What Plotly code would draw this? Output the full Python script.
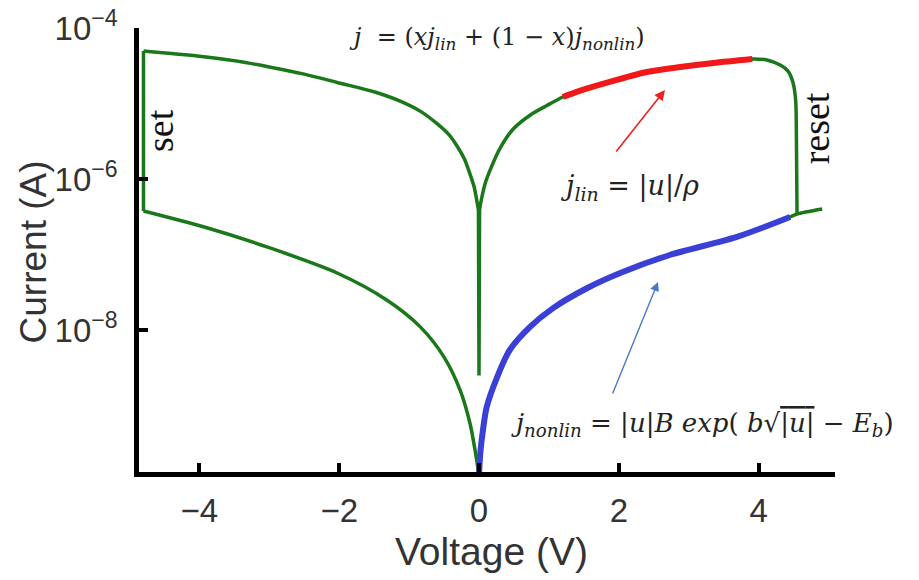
import plotly.graph_objects as go

# ---- measured I-V loop (voltage in V, current in A) ----
# low-resistance branch, negative side: from the set point back to 0 V
v_lrs_neg = [-4.80, -4.00, -3.46, -3.00, -2.50, -2.03, -1.49, -1.07, -0.83, -0.60, -0.44,
             -0.31, -0.21, -0.13, -0.07, -0.036, -0.008, 0.0]
i_lrs_neg = [4.95e-5, 4.22e-5, 3.64e-5, 3.05e-5, 2.45e-5, 1.9e-5, 1.42e-5, 1.02e-5, 7.8e-6,
             5.4e-6, 3.95e-6, 2.7e-6, 1.85e-6, 1.17e-6, 7.9e-7, 5.45e-7, 3.9e-7, 2.5e-9]

# low-resistance branch, positive side: 0 V up to the reset
v_lrs_pos = [0.008, 0.036, 0.086, 0.157, 0.30, 0.49, 0.73, 0.97, 1.20, 1.44, 1.92, 2.40,
             2.88, 3.35, 3.91, 4.12, 4.31, 4.42, 4.49, 4.53, 4.54, 4.55]
i_lrs_pos = [3.9e-7, 5.45e-7, 8.6e-7, 1.3e-6, 2.55e-6, 4.6e-6, 7.0e-6, 9.4e-6,
             1.22e-5, 1.47e-5, 1.99e-5, 2.61e-5, 3.04e-5, 3.44e-5, 3.88e-5, 3.77e-5,
             3.23e-5, 2.69e-5, 1.93e-5, 1.11e-5, 4.46e-6, 3.44e-7]

# high-resistance branch, positive side: from the sweep maximum back to 0 V
v_hrs_pos = [4.91, 4.55, 4.45, 3.69, 2.73, 2.02, 1.55, 1.06, 0.73, 0.44, 0.26, 0.11,
             0.057, 0.02, 0.0]
i_hrs_pos = [4.01e-7, 3.44e-7, 3.14e-7, 1.71e-7, 9.85e-8, 5.69e-8, 3.6e-8, 1.95e-8,
             1.1e-8, 5.43e-9, 2.38e-9, 9.55e-10, 4.73e-10, 2.42e-10, 1.2e-10]

# high-resistance branch, negative side: 0 V out to the set point
v_hrs_neg = [0.0, -0.057, -0.13, -0.27, -0.50, -0.84, -1.32, -2.03, -2.99, -3.93, -4.80]
i_hrs_neg = [1.2e-10, 2.58e-10, 5.86e-10, 1.6e-9, 4.38e-9, 1.1e-8, 2.5e-8, 5.69e-8,
             1.22e-7, 2.31e-7, 3.77e-7]

# stretches described by the two model terms
lin_first, lin_last = 8, 14        # j_lin fit on the LRS branch (1.2 V .. 3.9 V)
nonlin_first = 2                   # j_nonlin fit on the HRS branch (4.45 V .. 0 V)

x_ticks = [-4, -2, 0, 2, 4]
x_tick_text = ["\u22124", "\u22122", "0", "2", "4"]
y_ticks = [1e-8, 1e-6, 1e-4]
y_tick_text = ["10<sup>\u22128</sup>", "10<sup>\u22126</sup>", "10<sup>\u22124</sup>"]

GREEN = "#1a781a"
RED = "#f01818"
BLUE = "#3a3fd6"

fig = go.Figure()


def add_line(xs, ys, color, width, smooth=True):
    fig.add_trace(go.Scatter(
        x=xs, y=ys, mode="lines", hoverinfo="skip",
        line=dict(color=color, width=width,
                  shape="spline" if smooth else "linear", smoothing=0.8)))


# green loop, split at its sharp corners so the smoothing stays on each branch
add_line([v_hrs_neg[-1], v_lrs_neg[0]], [i_hrs_neg[-1], i_lrs_neg[0]], GREEN, 3.5, False)  # set
add_line(v_lrs_neg[:-1], i_lrs_neg[:-1], GREEN, 3.5)
add_line([v_lrs_neg[-2], v_lrs_neg[-1], v_lrs_pos[0]],
         [i_lrs_neg[-2], i_lrs_neg[-1], i_lrs_pos[0]], GREEN, 3.5, False)                 # 0 V dip
add_line(v_lrs_pos, i_lrs_pos, GREEN, 3.5)                                                 # up to reset
add_line(v_hrs_pos, i_hrs_pos, GREEN, 3.5)
add_line(v_hrs_neg, i_hrs_neg, GREEN, 3.5)

# model segments on top
add_line(v_lrs_pos[lin_first:lin_last + 1], i_lrs_pos[lin_first:lin_last + 1], RED, 6)
add_line(v_hrs_pos[nonlin_first:], i_hrs_pos[nonlin_first:], BLUE, 6)

serif = "Liberation Serif"


def math_font(size):
    return dict(family="DejaVu Serif", size=size, color="#222222")


def paper_text(text, x, y, font, angle=0, xanchor="center"):
    return dict(text=text, x=x, y=y, xref="paper", yref="paper", showarrow=False,
                xanchor=xanchor, yanchor="middle", textangle=angle, font=font)


annotations = [
    # formulas
    paper_text("<i>j</i>  = (<i>xj</i><sub><i>lin</i></sub> + (1 \u2212 <i>x</i>)"
               "<i>j</i><sub><i>nonlin</i></sub>)", 0.514, 0.977, math_font(24)),
    paper_text("<i>j</i><sub><i>lin</i></sub> = |<i>u</i>|/<i>\u03c1</i>",
               0.705, 0.640, math_font(27)),
    paper_text("<i>j</i><sub><i>nonlin</i></sub> = |<i>u</i>|<i>B exp</i>( <i>b</i>\u221a"
               "<span style='text-decoration:overline'>|<i>u</i>|</span> \u2212 "
               "<i>E</i><sub><i>b</i></sub>)", 0.531, 0.106, math_font(26), xanchor="left"),
    # switching events
    paper_text("set", 0.030, 0.770, dict(family=serif, size=38, color="#111111"), -90),
    paper_text("reset", 0.972, 0.773, dict(family=serif, size=38, color="#111111"), -90),
    # axis titles
    paper_text("Current (A)", -0.152, 0.495,
               dict(family="Liberation Sans", size=37, color="#333333"), -90),
    paper_text("Voltage (V)", 0.507, -0.18,
               dict(family="Liberation Sans", size=39, color="#333333")),
    # pointer arrows
    dict(text="", x=2.661, y=-4.821, ax=1.946, ay=-5.656, xref="x", yref="y",
         axref="x", ayref="y", showarrow=True, arrowhead=2, arrowsize=1.3,
         arrowwidth=1.6, arrowcolor="#f02020"),
    dict(text="", x=2.561, y=-7.364, ax=1.903, ay=-8.861, xref="x", yref="y",
         axref="x", ayref="y", showarrow=True, arrowhead=2, arrowsize=1.3,
         arrowwidth=1.4, arrowcolor="#4a78c8"),
]

axis_common = dict(showline=True, linecolor="black", linewidth=4.5, ticks="inside",
                   ticklen=9, tickwidth=4, tickcolor="black", showgrid=False,
                   zeroline=False, mirror=False, automargin=False,
                   tickfont=dict(family="Liberation Sans", size=33, color="#333333"))

fig.update_layout(
    width=919, height=580,
    margin=dict(l=139, r=84, t=28, b=108),
    paper_bgcolor="white", plot_bgcolor="white",
    showlegend=False,
    xaxis=dict(range=[-4.864, 5.093], tickmode="array", tickvals=x_ticks,
               ticktext=x_tick_text, ticklabelstandoff=6, **axis_common),
    yaxis=dict(type="log", range=[-9.881, -4.0], tickmode="array", tickvals=y_ticks,
               ticktext=y_tick_text, ticklabelstandoff=10, **axis_common),
    annotations=annotations,
)

fig.write_html("out.html")
